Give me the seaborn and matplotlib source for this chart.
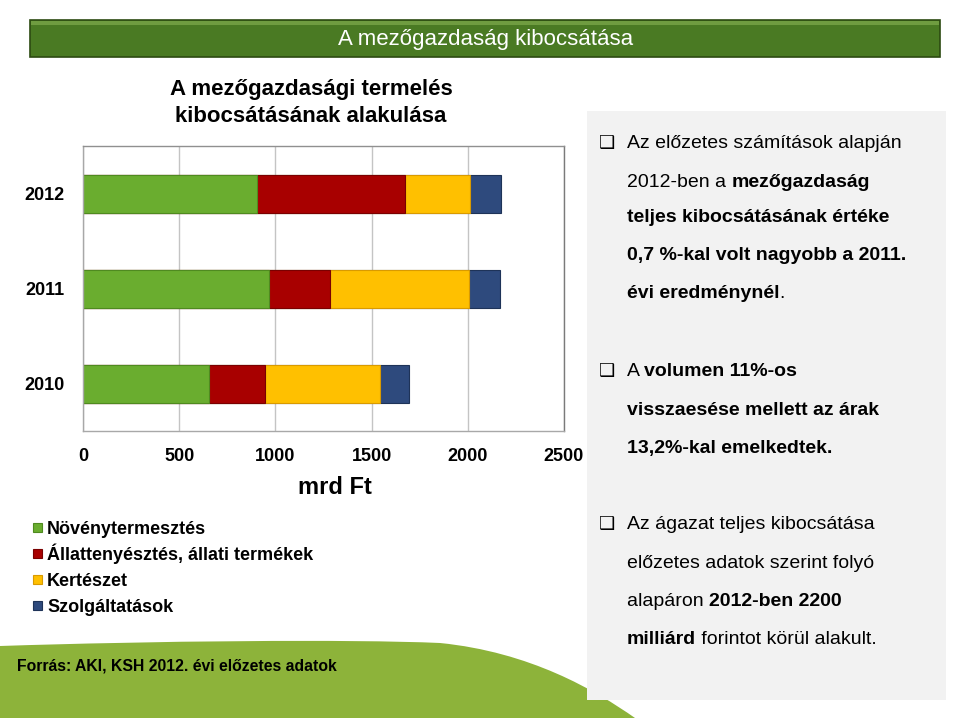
import seaborn as sns
import matplotlib.pyplot as plt
import numpy as np
from matplotlib import font_manager
from matplotlib.patches import Rectangle, PathPatch
from matplotlib.path import Path

# values (mrd Ft)
years = ["2012", "2011", "2010"]
sectors = ["Növénytermesztés", "Állattenyésztés, állati termékek", "Kertészet", "Szolgáltatások"]
crop = [905, 965, 653]
animal = [766, 318, 292]
garden = [339, 723, 598]
services = [165, 161, 151]
colors = ["#6aad2f", "#a80000", "#ffc000", "#2e4a7d"]
edges = ["#4f8a20", "#7a0000", "#d99a00", "#1e3358"]
xticks = [0, 500, 1000, 1500, 2000, 2500]

sns.set_theme(style="white")
plt.rcParams["font.family"] = ["Liberation Sans", "DejaVu Sans"]
plt.rcParams["text.color"] = "black"


def has_font(name):
    try:
        font_manager.findfont(font_manager.FontProperties(family=name), fallback_to_default=False)
        return True
    except ValueError:
        return False


narrow = "Liberation Sans Narrow" if has_font("Liberation Sans Narrow") else None

W, H = 960, 718


def fx(x):
    return x / W


def fy(y):
    return 1 - y / H


fig = plt.figure(figsize=(9.6, 7.18), dpi=100)
fig.patch.set_facecolor("white")

# header bar
fig.add_artist(Rectangle((fx(30), fy(57)), 910 / W, 37 / H, transform=fig.transFigure,
                         facecolor="#4a7a23", edgecolor="#2c4a12", lw=1.2))
fig.add_artist(Rectangle((fx(31), fy(25)), 908 / W, 4 / H, transform=fig.transFigure,
                         facecolor="#6f9c40", lw=0))
if narrow:
    fig.text(fx(486), fy(40), "A mezőgazdaság kibocsátása", color="white", fontsize=18,
             family=[narrow, "DejaVu Sans"], ha="center", va="center")
else:
    fig.text(fx(486), fy(40), "A mezőgazdaság kibocsátása", color="white", fontsize=16,
             ha="center", va="center")

# green swoosh at the bottom
pts = [(0, 718), (0, 646), (150, 641), (350, 639), (440, 643),
       (530, 652), (595, 690), (635, 718), (0, 718)]
codes = [Path.MOVETO, Path.LINETO, Path.CURVE4, Path.CURVE4, Path.CURVE4,
         Path.CURVE4, Path.CURVE4, Path.CURVE4, Path.CLOSEPOLY]
swoosh = Path([(fx(a), fy(b)) for a, b in pts], codes)
fig.add_artist(PathPatch(swoosh, transform=fig.transFigure, facecolor="#8db33a", lw=0))

# right text panel
fig.add_artist(Rectangle((fx(587), fy(700)), 359 / W, 589 / H, transform=fig.transFigure,
                         facecolor="#f2f2f2", lw=0))

# chart
ax = fig.add_axes([fx(83), fy(431), 481 / W, 285 / H])
ax.set_facecolor("none")
cum = np.cumsum([crop, animal, garden, services], axis=0)
for i in reversed(range(4)):
    sns.barplot(x=cum[i], y=years, order=years, color=colors[i], width=0.4, saturation=1,
                edgecolor=edges[i], linewidth=0.8, ax=ax)

ax.set_xlim(0, 2500)
ax.set_ylim(2.5, -0.5)
ax.set_xticks(xticks)
ax.set_xticklabels([str(t) for t in xticks], fontsize=13, fontweight="bold")
ax.set_yticklabels(years, fontsize=13, fontweight="bold")
ax.xaxis.grid(True, color="#c4c4c4", lw=1)
ax.set_axisbelow(True)
ax.set_xlabel("")
ax.set_ylabel("")
ax.tick_params(axis="x", length=0, pad=12, colors="black")
ax.tick_params(axis="y", which="major", length=0, pad=13, colors="black")
ax.set_yticks([-0.5, 0.5, 1.5, 2.5], minor=True)
ax.tick_params(axis="y", which="minor", length=5, color="#a0a0a0", width=1)
for side in ["left", "bottom", "right", "top"]:
    ax.spines[side].set_color("#a8a8a8")
    ax.spines[side].set_linewidth(1)
ax.spines["right"].set_color("#7a7a7a")
ax.spines["top"].set_color("#909090")

fig.text(fx(311), fy(90), "A mezőgazdasági termelés", fontsize=16, fontweight="bold",
         ha="center", va="center")
fig.text(fx(311), fy(117), "kibocsátásának alakulása", fontsize=16, fontweight="bold",
         ha="center", va="center")
fig.text(fx(335), fy(487), "mrd Ft", fontsize=17, fontweight="bold", ha="center", va="center")

# legend, one row every 26 px
for k, (name, c, e) in enumerate(zip(sectors, colors, edges)):
    y = 527 + 26 * k
    fig.add_artist(Rectangle((fx(33), fy(y + 4.5)), 9 / W, 9 / H, transform=fig.transFigure,
                             facecolor=c, edgecolor=e, lw=0.8))
    fig.text(fx(47), fy(y + 6.5), name, fontsize=13, fontweight="bold", ha="left",
             va="baseline")

fig.text(fx(17), fy(666), "Forrás: AKI, KSH 2012. évi előzetes adatok", fontsize=11.3,
         fontweight="bold", ha="left", va="center")

# panel text, mixed regular / bold
renderer = fig.canvas.get_renderer()


def rich_line(x, y, parts, size=14):
    for txt, bold in parts:
        t = fig.text(fx(x), fy(y + 6), txt, fontsize=size, fontweight="bold" if bold else "normal",
                     ha="left", va="baseline")
        x += t.get_window_extent(renderer).width


lines = [
    (142, True, [("Az előzetes számítások alapján", False)]),
    (181, False, [("2012-ben a ", False), ("mezőgazdaság", True)]),
    (216, False, [("teljes kibocsátásának értéke", True)]),
    (254, False, [("0,7 %-kal volt nagyobb a 2011.", True)]),
    (292, False, [("évi eredménynél", True), (".", False)]),
    (370, True, [("A ", False), ("volumen 11%-os", True)]),
    (409, False, [("visszaesése mellett az árak", True)]),
    (447, False, [("13,2%-kal emelkedtek.", True)]),
    (523, True, [("Az ágazat teljes kibocsátása", False)]),
    (562, False, [("előzetes adatok szerint folyó", False)]),
    (600, False, [("alapáron ", False), ("2012-ben 2200", True)]),
    (638, False, [("milliárd", True), (" forintot körül alakult.", False)]),
]
for y, bullet, parts in lines:
    if bullet:
        fig.text(fx(599), fy(y + 1), "❑", fontsize=13, family=["DejaVu Sans"], ha="left",
                 va="center")
    rich_line(627, y, parts)

fig.savefig("out.png", dpi=100)
